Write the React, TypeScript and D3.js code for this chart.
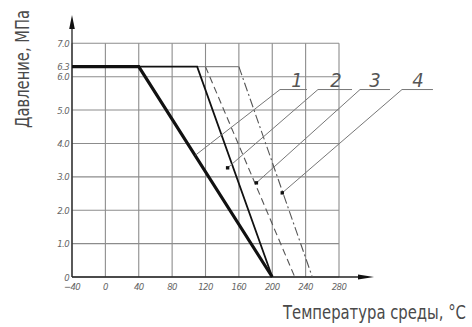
import React, { useLayoutEffect, useRef, useState } from "react";
import * as d3 from "d3";

const xTicks = [-40, 0, 40, 80, 120, 160, 200, 240, 280];
const xTickLabels = ["−40", "0", "40", "80", "120", "160", "200", "240", "280"];
const yGrid = [0, 1, 2, 3, 4, 5, 6, 7];
const yTicks = [0, 1, 2, 3, 4, 5, 6, 6.3, 7];
const yTickLabels = ["0", "1.0", "2.0", "3.0", "4.0", "5.0", "6.0", "6.3", "7.0"];

// curves: temperature (°C) vs pressure (MPa)
const curve1T = [-40, 40, 200];
const curve1P = [6.3, 6.3, 0];
const curve2T = [40, 110, 200];
const curve2P = [6.3, 6.3, 0];
const curve3T = [120, 227];
const curve3P = [6.3, 0];
const curve4T = [160, 248];
const curve4P = [6.3, 0];
const flatT = [110, 160];
const flatP = [6.3, 6.3];

// callouts
const calloutLabels = ["1", "2", "3", "4"];
const calloutEndT = [108, 146.5, 181, 212];
const calloutEndP = [3.65, 3.27, 2.82, 2.52];
const calloutDot = [false, true, true, true];
const shelfStartT = [209.3, 254.8, 305.2, 355.5];
const shelfEndT = [241.6, 295.6, 341.1, 392.6];
const shelfP = 5.615;
const labelT = [229.7, 276.4, 323.1, 374.7];

const W = 472;
const H = 327;
const font = "'DejaVu Sans Condensed', 'DejaVu Sans', sans-serif";

function FitText(props: {
  x: number;
  y: number;
  rotate?: number;
  target: number;
  size: number;
  children: string;
}) {
  const ref = useRef<SVGTextElement>(null);
  const [k, setK] = useState(0.8);
  useLayoutEffect(() => {
    if (ref.current) {
      const len = ref.current.getComputedTextLength();
      if (len > 0) setK(props.target / len);
    }
  }, [props.target, props.children]);
  const rot = props.rotate ? ` rotate(${props.rotate})` : "";
  return (
    <text
      ref={ref}
      transform={`translate(${props.x},${props.y})${rot} scale(${k},1)`}
      fontFamily={font}
      fontSize={props.size}
      fill="#4a4a4a"
    >
      {props.children}
    </text>
  );
}

export default function App() {
  const x = d3.scaleLinear().domain([-40, 280]).range([72, 339]);
  const y = d3.scaleLinear().domain([0, 7]).range([277, 43.3]);
  const line = d3
    .line<[number, number]>()
    .x((d) => x(d[0]))
    .y((d) => y(d[1]));
  const pts = (t: number[], p: number[]) => t.map((v, i) => [v, p[i]] as [number, number]);

  const gridColor = "#8c8c8c";

  return (
    <svg
      width={W}
      height={H}
      viewBox={`0 0 ${W} ${H}`}
      style={{ position: "absolute", left: 0, top: 0, background: "#fff" }}
    >
      {/* grid */}
      {xTicks.map((t) => (
        <line key={"vx" + t} x1={x(t)} x2={x(t)} y1={y(0)} y2={y(7)} stroke={gridColor} strokeWidth={1.1} />
      ))}
      {yGrid.map((p) => (
        <line key={"hy" + p} x1={x(-40)} x2={x(280)} y1={y(p)} y2={y(p)} stroke={gridColor} strokeWidth={1.1} />
      ))}

      {/* axes */}
      <line x1={x(-40)} x2={x(-40)} y1={y(0)} y2={22} stroke="#222" strokeWidth={1.3} />
      <path d={`M${x(-40)},15 L${x(-40) - 2.8},29 L${x(-40) + 2.8},29 Z`} fill="#111" />
      <line x1={x(-40)} x2={362} y1={y(0)} y2={y(0)} stroke="#222" strokeWidth={1.3} />
      <path d={`M374,${y(0)} L358,${y(0) - 2.6} L358,${y(0) + 2.6} Z`} fill="#111" />

      {/* tick labels */}
      {yTicks.map((p, i) => (
        <text
          key={"yl" + p}
          x={69}
          y={y(p) + 3.5}
          textAnchor="end"
          fontFamily={font}
          fontStyle="italic"
          fontSize={9.5}
          fill="#666"
          letterSpacing={-0.6}
        >
          {yTickLabels[i]}
        </text>
      ))}
      {xTicks.map((t, i) => (
        <text
          key={"xl" + t}
          x={x(t)}
          y={290}
          textAnchor="middle"
          fontFamily={font}
          fontStyle="italic"
          fontSize={9.5}
          fill="#666"
          letterSpacing={-0.6}
        >
          {xTickLabels[i]}
        </text>
      ))}

      {/* curves */}
      <path d={line(pts(flatT, flatP)) || ""} fill="none" stroke="#888" strokeWidth={1.1} />
      <path d={line(pts(curve4T, curve4P)) || ""} fill="none" stroke="#555" strokeWidth={1.1} strokeDasharray="9,3,2,3" />
      <path d={line(pts(curve3T, curve3P)) || ""} fill="none" stroke="#555" strokeWidth={1.1} strokeDasharray="7,4" />
      <path d={line(pts(curve2T, curve2P)) || ""} fill="none" stroke="#111" strokeWidth={1.8} />
      <path d={line(pts(curve1T, curve1P)) || ""} fill="none" stroke="#111" strokeWidth={3.2} />

      {/* callouts */}
      {calloutLabels.map((lab, i) => (
        <g key={"c" + lab}>
          <line
            x1={x(calloutEndT[i])}
            y1={y(calloutEndP[i])}
            x2={x(shelfStartT[i])}
            y2={y(shelfP)}
            stroke="#777"
            strokeWidth={1}
          />
          <line
            x1={x(shelfStartT[i])}
            y1={y(shelfP)}
            x2={x(shelfEndT[i])}
            y2={y(shelfP)}
            stroke="#777"
            strokeWidth={1}
          />
          {calloutDot[i] && (
            <rect x={x(calloutEndT[i]) - 1.7} y={y(calloutEndP[i]) - 1.7} width={3.4} height={3.4} fill="#111" />
          )}
          <text
            x={x(labelT[i])}
            y={y(shelfP) - 3}
            textAnchor="middle"
            fontFamily={font}
            fontStyle="italic"
            fontSize={20}
            fill="#555"
          >
            {lab}
          </text>
        </g>
      ))}

      {/* axis titles */}
      <FitText x={29} y={128} rotate={-90} target={118} size={19}>
        Давление, МПа
      </FitText>
      <FitText x={283} y={319} target={183} size={19}>
        Температура среды, °С
      </FitText>
    </svg>
  );
}
